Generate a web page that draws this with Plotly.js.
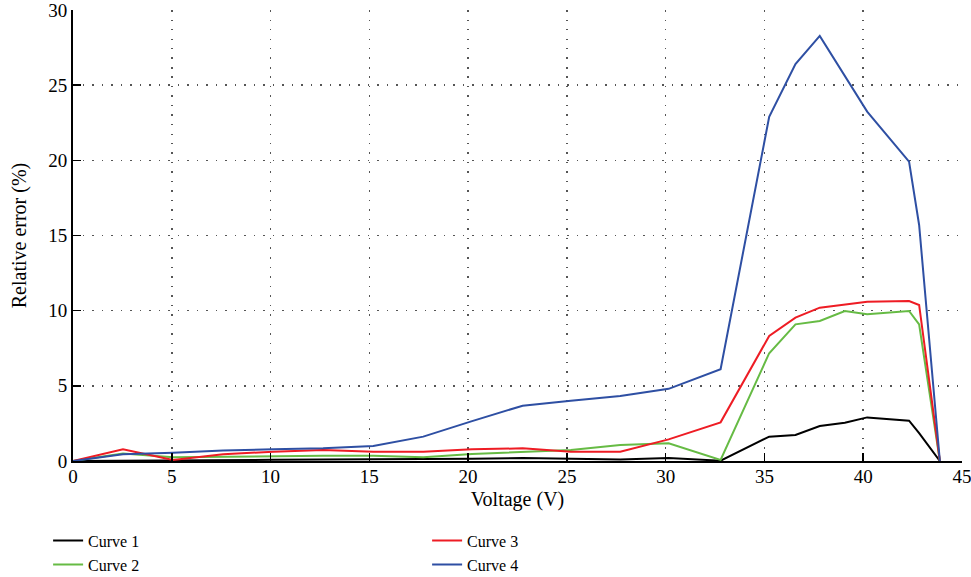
<!DOCTYPE html>
<html>
<head>
<meta charset="utf-8">
<script src="https://cdn.plot.ly/plotly-3.0.1.min.js"></script>
<style>html,body{margin:0;padding:0;background:#fff;}#chart{width:971px;height:577px;}</style>
</head>
<body>
<div id="chart"></div>
<script>
const voltage = [0, 2.53, 5.06, 7.6, 10.13, 12.66, 15.2, 17.73, 20.2, 22.76, 25.2, 27.7, 30.15, 32.78, 35.24, 36.57, 37.8, 39.07, 40.2, 42.32, 42.83, 43.88];
const curve1 = [0, 0.03, 0.05, 0.07, 0.08, 0.1, 0.1, 0.1, 0.15, 0.2, 0.15, 0.1, 0.2, 0.02, 1.62, 1.73, 2.33, 2.55, 2.9, 2.68, 1.85, 0];
const curve2 = [0, 0.5, 0.25, 0.3, 0.35, 0.35, 0.35, 0.25, 0.47, 0.6, 0.73, 1.06, 1.18, 0.07, 7.17, 9.09, 9.31, 9.98, 9.76, 9.98, 9.09, 0];
const curve3 = [0, 0.78, 0.07, 0.45, 0.62, 0.73, 0.62, 0.62, 0.78, 0.84, 0.62, 0.62, 1.44, 2.57, 8.32, 9.54, 10.2, 10.4, 10.6, 10.64, 10.38, 0];
const curve4 = [0, 0.45, 0.55, 0.7, 0.78, 0.85, 1.0, 1.62, 2.65, 3.68, 4.0, 4.32, 4.8, 6.1, 22.9, 26.4, 28.28, 25.57, 23.24, 19.91, 15.7, 0];
const names = ["Curve 1", "Curve 2", "Curve 3", "Curve 4"];
const colors = ["#000000", "#66bb44", "#ee1c24", "#2e4fa3"];
const ranks = [1, 3, 2, 4];
const series = [curve1, curve2, curve3, curve4];

const fam = "Times New Roman, Liberation Serif, serif";
const tickFont = {family: fam, size: 19, color: "#000"};
const titleFont = {family: fam, size: 20, color: "#000"};
const legendFont = {family: fam, size: 16, color: "#000"};
const traces = series.map((s, i) => ({
  x: voltage, y: s, type: "scatter", mode: "lines", name: names[i],
  line: {color: colors[i], width: 2}, legendrank: ranks[i]
}));

const axisCommon = {
  showline: true, linecolor: "#000", linewidth: 2,
  ticks: "inside", ticklen: 8, tickwidth: 1.5, tickcolor: "#000",
  showgrid: true, gridcolor: "#555", gridwidth: 1.5, griddash: "1.5px,8px",
  zeroline: false, mirror: false, tickfont: tickFont, automargin: false,
  ticklabeloverflow: "allow"
};

const layout = {
  width: 971, height: 577,
  margin: {l: 73, r: 9, t: 10, b: 116, autoexpand: false},
  paper_bgcolor: "#fff", plot_bgcolor: "#fff",
  font: tickFont,
  showlegend: true,
  xaxis: Object.assign({}, axisCommon, {range: [0, 45], dtick: 5, tick0: 0, ticklabelstandoff: -3,
    title: {text: "Voltage (V)", font: titleFont, standoff: 6}}),
  yaxis: Object.assign({}, axisCommon, {range: [0, 30], dtick: 5, tick0: 0,
    title: {text: "Relative error (%)", font: titleFont, standoff: 16}}),
  legend: {orientation: "h", x: -0.028, xanchor: "left", y: -0.139, yanchor: "top",
    entrywidth: 334, entrywidthmode: "pixels", traceorder: "normal",
    font: legendFont, bgcolor: "rgba(0,0,0,0)", tracegroupgap: 0}
};

Plotly.newPlot("chart", traces, layout, {displayModeBar: false, staticPlot: true});
</script>
</body>
</html>
